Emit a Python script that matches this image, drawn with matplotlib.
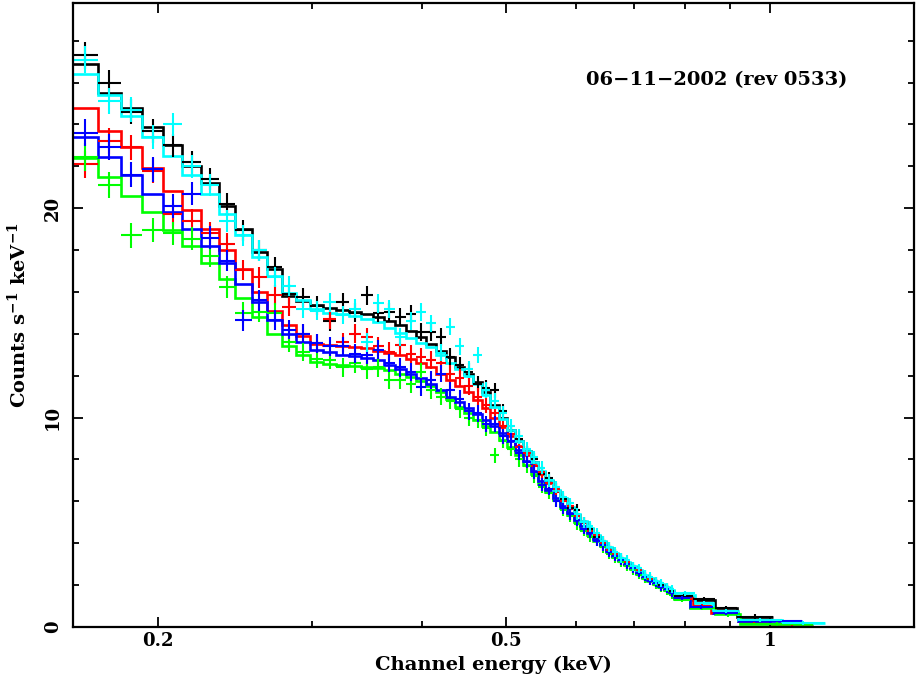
import matplotlib
matplotlib.use("Agg")
import matplotlib.pyplot as plt
import numpy as np

# shared narrow energy bins (keV), lower edges + last upper edge
edges = [0.1600, 0.1707, 0.1813, 0.1920, 0.2026, 0.2133, 0.2239, 0.2346, 0.2452, 0.2559,
         0.2665, 0.2772, 0.2878, 0.2985, 0.3091, 0.3198, 0.3304, 0.3411, 0.3517, 0.3624,
         0.3730, 0.3837, 0.3943, 0.4050, 0.4156, 0.4263, 0.4369, 0.4476, 0.4582, 0.4689,
         0.4795, 0.4902, 0.5008, 0.5115, 0.5221, 0.5328, 0.5434, 0.5541, 0.5647, 0.5754,
         0.5860, 0.5967, 0.6073, 0.6180, 0.6286, 0.6393, 0.6499, 0.6606, 0.6712, 0.6819,
         0.6925, 0.7032, 0.7138, 0.7245, 0.7351, 0.7458, 0.7564, 0.7671, 0.7777]

# error bar half heights for the narrow bins
yerr = [0.65, 0.62, 0.60, 0.58, 0.56, 0.55, 0.53, 0.52, 0.50, 0.50,
        0.48, 0.47, 0.46, 0.45, 0.45, 0.45, 0.45, 0.45, 0.44, 0.44,
        0.44, 0.43, 0.43, 0.42, 0.42, 0.41, 0.40, 0.40, 0.39, 0.38,
        0.37, 0.36, 0.35, 0.34, 0.33, 0.32, 0.31, 0.30, 0.29, 0.28,
        0.28, 0.27, 0.26, 0.26, 0.25, 0.25, 0.24, 0.24, 0.23, 0.23,
        0.22, 0.22, 0.21, 0.21, 0.20, 0.20, 0.19, 0.19]

black_model = [26.9, 25.5, 24.8, 23.9, 23.0, 22.0, 21.2, 20.1, 19.0, 17.9,
               17.1, 15.8, 15.55, 15.4, 15.25, 15.15, 15.05, 14.95, 14.8, 14.6,
               14.4, 14.15, 13.85, 13.5, 13.2, 12.9, 12.4, 12.1, 11.7, 11.2,
               10.6, 10.0, 9.4, 8.9, 8.4, 7.9, 7.4, 6.95, 6.5, 6.1,
               5.7, 5.35, 5.0, 4.7, 4.35, 4.05, 3.75, 3.5, 3.25, 3.05,
               2.85, 2.65, 2.45, 2.3, 2.15, 2.0, 1.85, 1.7]
black_data = [27.3, 26.0, 24.6, 23.7, 23.0, 22.2, 21.4, 20.2, 18.95, 18.0,
              17.2, 15.9, 15.75, 15.35, 14.6, 15.5, 15.0, 15.85, 15.0, 15.05,
              14.8, 14.95, 14.1, 14.1, 13.85, 12.9, 12.5, 12.2, 11.6, 11.4,
              11.3, 10.3, 9.2, 9.0, 8.3, 8.0, 7.3, 7.1, 6.6, 6.1,
              5.7, 5.6, 5.0, 4.7, 4.3, 4.1, 3.8, 3.5, 3.3, 3.0,
              2.9, 2.6, 2.5, 2.3, 2.2, 2.0, 1.9, 1.7]
black_tail_edges = [0.7777, 0.816, 0.865, 0.917, 1.008]
black_tail_model = [1.5, 1.3, 0.9, 0.5]
black_tail_data = [1.5, 1.35, 0.9, 0.5]

red_model = [24.8, 23.7, 22.9, 21.9, 20.8, 19.9, 19.0, 18.0, 17.1, 16.0,
             15.1, 14.4, 13.9, 13.5, 13.45, 13.4, 13.35, 13.3, 13.2, 13.1,
             13.0, 12.8, 12.6, 12.4, 12.1, 11.8, 11.5, 11.2, 10.85, 10.45,
             10.0, 9.55, 9.1, 8.65, 8.2, 7.75, 7.3, 6.9, 6.5, 6.1,
             5.7, 5.35, 5.0, 4.65, 4.35, 4.05, 3.75, 3.5, 3.25, 3.05,
             2.85, 2.65, 2.45, 2.3, 2.1, 1.95, 1.8, 1.65]
red_data = [22.1, 23.2, 22.9, 21.8, 19.7, 19.4, 18.8, 18.3, 17.05, 16.7,
            15.85, 15.3, 14.0, 13.55, 14.7, 13.6, 14.0, 13.85, 13.4, 13.15,
            13.45, 13.05, 12.9, 12.75, 12.6, 12.1, 11.9, 11.5, 11.0, 10.6,
            10.2, 9.6, 9.2, 8.6, 8.3, 7.7, 7.4, 6.9, 6.6, 6.0,
            5.8, 5.3, 5.0, 4.6, 4.4, 4.0, 3.7, 3.5, 3.2, 3.1,
            2.8, 2.7, 2.4, 2.3, 2.1, 1.9, 1.8, 1.6]
red_tail_edges = [0.7777, 0.816, 0.857, 0.919, 1.0, 1.12]
red_tail_model = [1.4, 1.0, 0.65, 0.3, 0.15]
red_tail_data = [1.35, 1.0, 0.65, 0.3, 0.15]

green_model = [22.4, 21.5, 20.6, 19.8, 18.95, 18.2, 17.4, 16.6, 15.7, 14.8,
               14.0, 13.4, 13.0, 12.65, 12.55, 12.5, 12.45, 12.4, 12.35, 12.25,
               12.1, 11.95, 11.75, 11.5, 11.2, 10.9, 10.5, 10.2, 9.9, 9.6,
               9.3, 8.95, 8.6, 8.2, 7.75, 7.3, 6.85, 6.45, 6.05, 5.7,
               5.35, 5.0, 4.7, 4.4, 4.1, 3.85, 3.6, 3.35, 3.15, 2.95,
               2.75, 2.55, 2.35, 2.2, 2.05, 1.9, 1.75, 1.6]
green_data = [22.45, 21.1, 18.7, 18.95, 18.8, 18.55, 17.7, 16.25, 15.0, 15.05,
              15.0, 13.6, 13.15, 12.8, 12.75, 12.4, 12.6, 12.3, 12.4, 11.8,
              11.8, 11.6, 12.2, 11.3, 11.0, 10.8, 10.4, 10.0, 9.9, 9.5,
              8.2, 8.9, 8.5, 8.0, 7.7, 7.2, 6.7, 6.4, 6.0, 5.6,
              5.3, 4.9, 4.6, 4.3, 4.1, 3.8, 3.5, 3.3, 3.1, 2.9,
              2.7, 2.5, 2.3, 2.2, 2.0, 1.85, 1.7, 1.55]
green_tail_edges = [0.7777, 0.81, 0.865, 0.925, 1.12]
green_tail_model = [1.35, 0.9, 0.6, 0.15]
green_tail_data = [1.3, 0.9, 0.6, 0.15]

blue_model = [23.4, 22.45, 21.6, 20.7, 19.8, 19.0, 18.2, 17.4, 16.4, 15.5,
              14.65, 14.0, 13.6, 13.25, 13.15, 13.0, 12.95, 12.85, 12.75, 12.5,
              12.3, 12.1, 11.9, 11.6, 11.3, 11.0, 10.75, 10.45, 10.15, 9.9,
              9.6, 9.25, 8.9, 8.45, 7.95, 7.45, 6.95, 6.55, 6.15, 5.8,
              5.45, 5.1, 4.8, 4.5, 4.2, 3.9, 3.65, 3.4, 3.2, 3.0,
              2.8, 2.6, 2.4, 2.25, 2.1, 1.95, 1.8, 1.65]
blue_data = [23.6, 22.9, 21.6, 21.85, 20.1, 20.7, 18.6, 17.5, 14.65, 15.6,
             14.65, 14.2, 14.0, 13.55, 13.4, 13.4, 13.05, 13.0, 13.25, 12.6,
             12.4, 12.2, 11.45, 11.8, 12.1, 11.3, 10.9, 10.3, 10.2, 9.7,
             9.7, 9.1, 8.9, 8.3, 7.9, 7.4, 6.8, 6.6, 6.0, 5.7,
             5.4, 5.1, 4.7, 4.5, 4.1, 3.9, 3.6, 3.4, 3.2, 3.0,
             2.8, 2.6, 2.4, 2.2, 2.1, 1.9, 1.8, 1.6]
blue_tail_edges = [0.7777, 0.81, 0.861, 0.919, 1.088]
blue_tail_model = [1.45, 0.95, 0.65, 0.3]
blue_tail_data = [1.4, 0.95, 0.65, 0.3]

cyan_model = [26.4, 25.4, 24.4, 23.4, 22.5, 21.6, 20.7, 19.7, 18.7, 17.65,
              16.75, 15.95, 15.6, 15.2, 15.0, 14.95, 14.85, 14.7, 14.55, 14.3,
              14.05, 13.8, 13.55, 13.35, 13.0, 12.6, 12.3, 12.0, 11.6, 11.1,
              10.5, 9.95, 9.4, 8.9, 8.4, 7.9, 7.45, 7.0, 6.55, 6.15,
              5.75, 5.4, 5.05, 4.75, 4.4, 4.1, 3.8, 3.55, 3.3, 3.1,
              2.9, 2.7, 2.5, 2.35, 2.2, 2.05, 1.9, 1.75]
cyan_data = [27.1, 25.1, 24.7, 23.4, 24.0, 22.0, 21.1, 19.4, 18.7, 18.0,
             16.7, 16.3, 15.2, 15.1, 15.5, 14.9, 15.2, 13.6, 15.45, 15.2,
             13.85, 14.6, 15.05, 14.5, 13.1, 14.35, 13.4, 12.3, 13.0, 11.3,
             10.8, 10.2, 9.6, 9.1, 8.5, 8.1, 7.6, 7.0, 6.7, 6.2,
             5.9, 5.4, 5.0, 4.8, 4.5, 4.1, 3.8, 3.6, 3.3, 3.2,
             2.9, 2.8, 2.5, 2.4, 2.2, 2.1, 1.9, 1.8]
cyan_tail_edges = [0.7777, 0.821, 0.861, 0.919, 1.032, 1.155]
cyan_tail_model = [1.55, 1.15, 0.75, 0.35, 0.2]
cyan_tail_data = [1.6, 1.15, 0.75, 0.35, 0.2]

tail_err = 0.1

series = [
    ("black", black_model, black_data, black_tail_edges, black_tail_model, black_tail_data),
    ("#ff0000", red_model, red_data, red_tail_edges, red_tail_model, red_tail_data),
    ("#00ff00", green_model, green_data, green_tail_edges, green_tail_model, green_tail_data),
    ("#0000ff", blue_model, blue_data, blue_tail_edges, blue_tail_model, blue_tail_data),
    ("#00ffff", cyan_model, cyan_data, cyan_tail_edges, cyan_tail_model, cyan_tail_data),
]

plt.rcParams['font.family'] = ['DejaVu Serif']
plt.rcParams['font.weight'] = 'bold'
plt.rcParams['axes.labelweight'] = 'bold'
plt.rcParams['mathtext.fontset'] = 'dejavuserif'
plt.rcParams['mathtext.default'] = 'bf'

fig = plt.figure(figsize=(9.17, 6.81), dpi=100)
ax = fig.add_axes([0.0796, 0.0793, 0.9171, 0.9163])

for color, model, data, t_edges, t_model, t_data in series:
    all_edges = np.array(edges + t_edges[1:])
    all_model = np.array(model + t_model)
    all_data = np.array(data + t_data)
    all_err = np.array(yerr + [tail_err] * len(t_data))
    lo = all_edges[:-1]
    hi = all_edges[1:]
    centers = np.sqrt(lo * hi)
    ax.errorbar(centers, all_data, xerr=[centers - lo, hi - centers], yerr=all_err,
                fmt='none', ecolor=color, elinewidth=1.5, capsize=0)
    ax.stairs(all_model, all_edges, baseline=None, color=color, lw=1.9)

ax.set_xscale('log')
ax.set_xlim(0.16, 1.46)
ax.set_ylim(0, 29.8)

ax.set_xticks([0.2, 0.5, 1])
ax.set_xticklabels(["0.2", "0.5", "1"])
ax.set_xticks([0.3, 0.4, 0.6, 0.7, 0.8, 0.9], minor=True)
ax.xaxis.set_minor_formatter(matplotlib.ticker.NullFormatter())
ax.set_yticks([0, 10, 20])
ax.set_yticks([2, 4, 6, 8, 12, 14, 16, 18, 22, 24, 26, 28], minor=True)

ax.tick_params(which='both', direction='in', top=True, right=True, width=1.3, labelsize=13)
ax.tick_params(which='major', length=7)
ax.tick_params(which='minor', length=4)
ax.tick_params(axis='y', labelrotation=90, pad=8)
for lab in ax.get_yticklabels():
    lab.set_va('center')
for sp in ax.spines.values():
    sp.set_linewidth(1.6)

ax.set_xlabel("Channel energy (keV)", fontsize=14, labelpad=4)
ax.set_ylabel("Counts s$^{-1}$ keV$^{-1}$", fontsize=14, labelpad=10)

ax.text(0.766, 0.877, "06\u221211\u22122002 (rev 0533)", transform=ax.transAxes,
        ha='center', va='center', fontsize=14)

fig.savefig("out.png", dpi=100)
